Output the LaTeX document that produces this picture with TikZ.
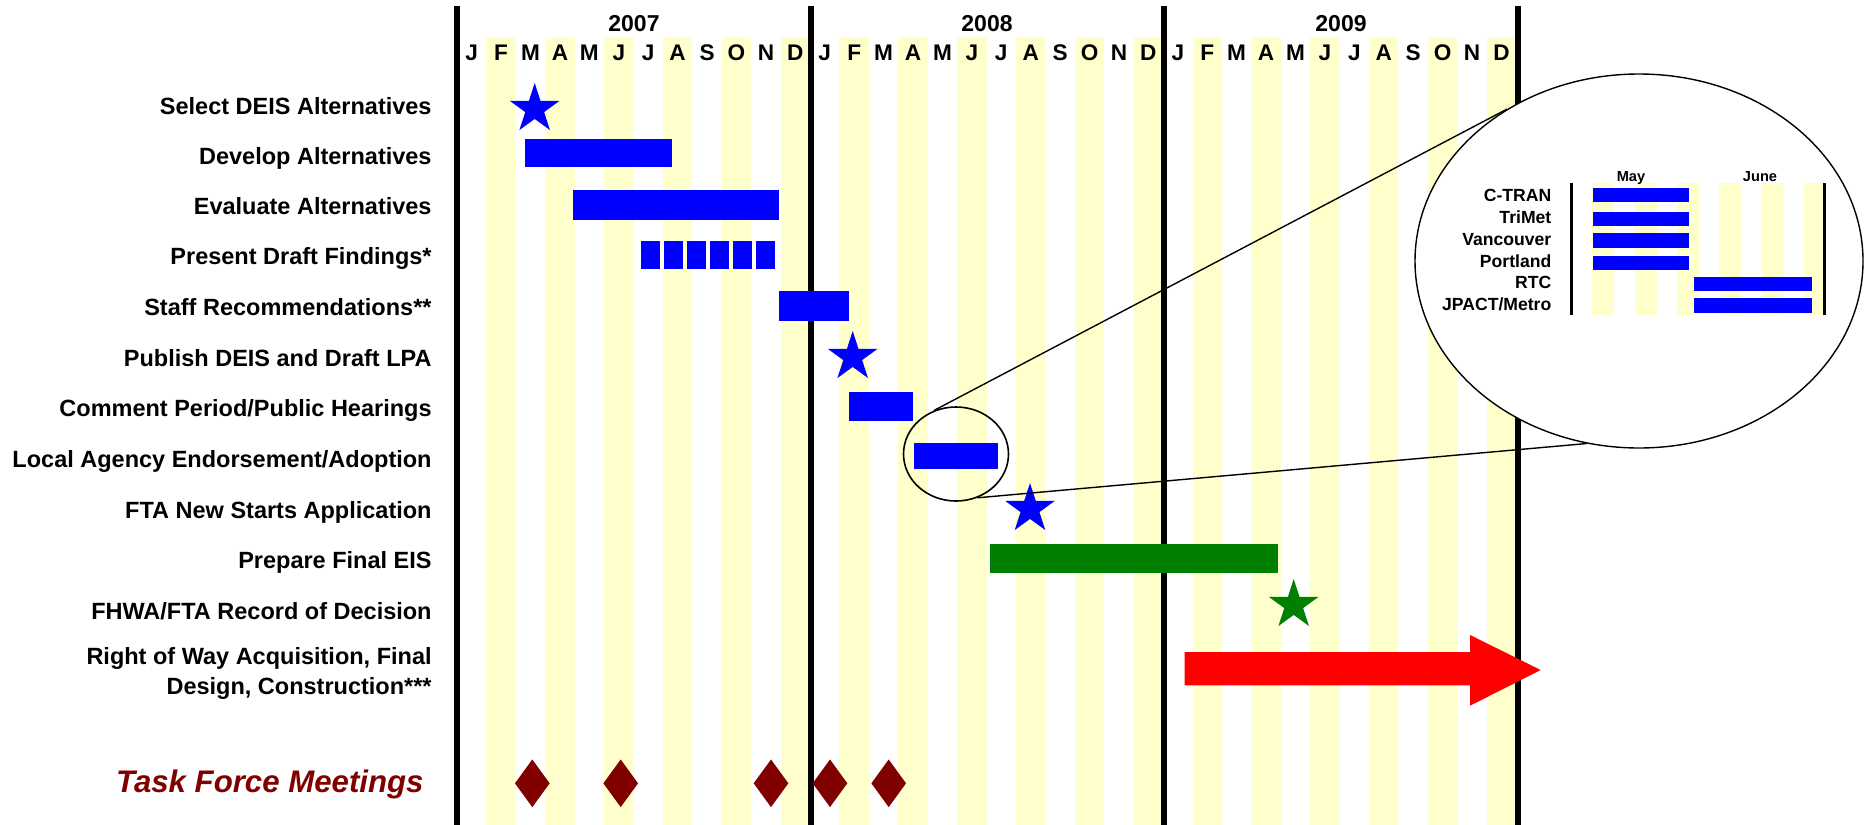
\documentclass[tikz,border=0pt]{standalone}
\usepackage{fontspec}
\setmainfont{Liberation Sans}
\usepackage{tikz}
\usetikzlibrary{shapes.geometric}
\definecolor{stripe}{HTML}{FFFFCC}
\definecolor{maroon}{HTML}{800000}
\definecolor{eisgreen}{HTML}{008000}

\begin{document}
\begin{tikzpicture}[x=0.5pt,y=-0.5pt,
  task/.style={anchor=base east,inner sep=0,align=right,font=\fontsize{11.75}{15}\selectfont\bfseries},
  mon/.style={anchor=base,inner sep=0,font=\fontsize{11.3}{13}\selectfont\bfseries},
  milestone/.style={star,star points=5,star point ratio=2.618,inner sep=0,minimum size=26pt},
  meeting/.style={diamond,fill=maroon,inner sep=0,minimum width=17.5pt,minimum height=24pt},
  agency/.style={anchor=base east,inner sep=0,font=\fontsize{8.8}{10}\selectfont\bfseries}]
  \useasboundingbox (0,0) rectangle (1870,825);
  % stripes and year lines
  \foreach \k in {0,...,17}
    \fill[stripe] ({457+29.42*(2*\k+1)},37) rectangle ++(29.42,788);
  \foreach \x in {457,811,1164,1518}
    \draw[line width=3pt] (\x,6) -- (\x,825);
  \node[mon,font=\fontsize{11.5}{13}\selectfont\bfseries] (y2007) at (634,31) {2007};
  \node[mon,font=\fontsize{11.5}{13}\selectfont\bfseries] (y2008) at (987,31) {2008};
  \node[mon,font=\fontsize{11.5}{13}\selectfont\bfseries] (y2009) at (1341,31) {2009};
  \foreach \m [count=\i from 0] in {J,F,M,A,M,J,J,A,S,O,N,D,J,F,M,A,M,J,J,A,S,O,N,D,J,F,M,A,M,J,J,A,S,O,N,D}
    \node[mon] (m\i) at ({457+29.42*(\i+0.5)},60) {\m};

  % task names
  \node[task] (sel) at (432,114) {Select DEIS Alternatives};
  \node[task] (dev) at (432,164) {Develop Alternatives};
  \node[task] (eval) at (432,214) {Evaluate Alternatives};
  \node[task] (pres) at (432,264) {Present Draft Findings*};
  \node[task] (staff) at (432,315) {Staff Recommendations**};
  \node[task] (pub) at (432,366) {Publish DEIS and Draft LPA};
  \node[task] (cmt) at (432,416) {Comment Period/Public Hearings};
  \node[task] (local) at (432,467) {Local Agency Endorsement/Adoption};
  \node[task] (fta) at (432,518) {FTA New Starts Application};
  \node[task] (feis) at (432,568) {Prepare Final EIS};
  \node[task] (rod) at (432,619) {FHWA/FTA Record of Decision};
  \node[task] (row) at (432,694) {Right of Way Acquisition, Final\\Design, Construction***};
  \node[task,text=maroon,font=\fontsize{15.6}{18}\selectfont\bfseries\itshape] (tfm) at (424,792) {Task Force Meetings};

  % bars and milestones
  \node[milestone,fill=blue] (s1) at (534.7,109) {};
  \fill[blue] (525.3,139.3) rectangle (672.3,166.7);
  \fill[blue] (573.3,190) rectangle (779.3,220);
  \foreach \k in {0,...,5}
    \fill[blue] ({641.3+23*\k},240.7) rectangle ++(18.3,28.3);
  \fill[blue] (779.3,291) rectangle (849,321);
  \node[milestone,fill=blue] (s2) at (852.7,357) {};
  \fill[blue] (849.3,392) rectangle (913,420.7);
  \fill[blue] (914.3,442.7) rectangle (998,468.7);
  \node[milestone,fill=blue] (s3) at (1030,509) {};
  \fill[eisgreen] (990,543.5) rectangle (1278.3,572.5);
  \node[milestone,fill=eisgreen] (s4) at (1293.7,605) {};
  \fill[red] (1184.7,652) -- (1470,652) -- (1470,635) -- (1540.7,670)
    -- (1470,705.7) -- (1470,685.3) -- (1184.7,685.3) -- cycle;
  \foreach \x [count=\i] in {532.3,620.7,771,830,888.7}
    \node[meeting] (d\i) at (\x,783.3) {};

  % magnified view of May/June 2008
  \node[ellipse,draw,line width=0.8pt,inner sep=0,minimum width=52.5pt,minimum height=47pt] (lens) at (956,454) {};
  \node[ellipse,draw,fill=white,line width=0.7pt,inner sep=0,minimum width=224pt,minimum height=187pt] (zoom) at (1639,261) {};
  \draw[line width=0.7pt] (lens.117) -- (zoom.131.5);
  \draw[line width=0.7pt] (lens.-64) -- (zoom.254.3);
  \foreach \k in {0,...,5}
    \fill[stripe] ({1592.3+42.3*\k},183) rectangle ++(22,132);
  \draw[line width=1.5pt] (1571.7,183) -- (1571.7,315);
  \draw[line width=1.5pt] (1824.3,183) -- (1824.3,315);
  \node[mon,font=\fontsize{7.3}{9}\selectfont\bfseries] (may) at (1631,181) {May};
  \node[mon,font=\fontsize{7.3}{9}\selectfont\bfseries] (june) at (1760,181) {June};
  \node[agency] (ctran) at (1551.7,201) {C-TRAN};
  \node[agency] (trimet) at (1551.7,223) {TriMet};
  \node[agency] (van) at (1551.7,245) {Vancouver};
  \node[agency] (pdx) at (1551.7,267) {Portland};
  \node[agency] (rtc) at (1551.7,288) {RTC};
  \node[agency] (jpact) at (1551.7,310) {JPACT/Metro};
  \foreach \y in {187.7,211.7,233.3,255.7}
    \fill[blue] (1593.3,\y) rectangle ++(95.4,14.2);
  \foreach \y in {276.7,298.3}
    \fill[blue] (1694.3,\y) rectangle ++(118,14.2);
\end{tikzpicture}
\end{document}
